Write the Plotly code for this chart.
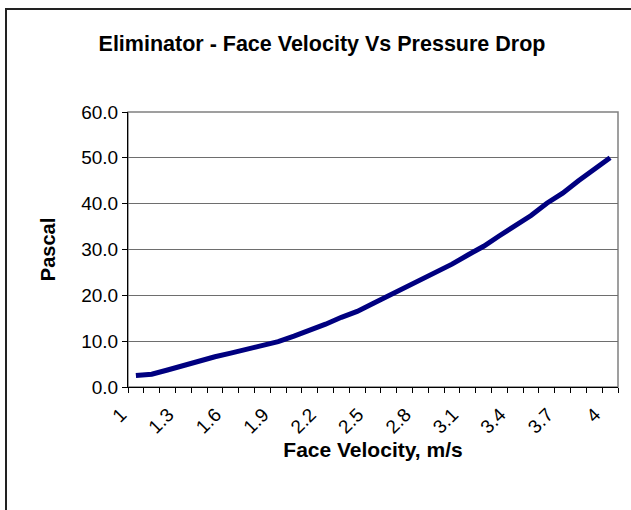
import plotly.graph_objects as go

# Face velocity (m/s) and measured pressure drop (Pa)
velocity = [1.0, 1.1, 1.2, 1.3, 1.4, 1.5, 1.6, 1.7, 1.8, 1.9, 2.0,
            2.1, 2.2, 2.3, 2.4, 2.5, 2.6, 2.7, 2.8, 2.9, 3.0,
            3.1, 3.2, 3.3, 3.4, 3.5, 3.6, 3.7, 3.8, 3.9, 4.0]
pressure_drop = [2.5, 2.8, 3.7, 4.7, 5.6, 6.6, 7.4, 8.2, 9.2, 9.9, 11.1,
                 12.3, 13.7, 15.2, 16.5, 18.2, 19.9, 21.4, 23.1, 25.0, 26.8,
                 28.8, 30.7, 33.0, 35.3, 37.4, 40.1, 42.3, 45.0, 47.6, 50.0]
x_tick_values = [1.0, 1.3, 1.6, 1.9, 2.2, 2.5, 2.8, 3.1, 3.4, 3.7, 4.0]
x_tick_labels = ["1", "1.3", "1.6", "1.9", "2.2", "2.5", "2.8", "3.1", "3.4", "3.7", "4"]
y_tick_values = [0, 10, 20, 30, 40, 50, 60]

W, H = 631, 510
PL, PR, PT, PB = 128, 618, 112, 387  # plot area edges in pixels
FONT = "Liberation Sans, Arial, sans-serif"


def px_x(px):
    return (px - PL) / (PR - PL)


def px_y(py):
    return (PB - py) / (PB - PT)


fig = go.Figure()
fig.add_trace(go.Scatter(
    x=velocity, y=pressure_drop, mode="lines",
    line=dict(color="#000080", width=5),
    hoverinfo="x+y", showlegend=False,
))

fig.update_layout(
    width=W, height=H,
    margin=dict(l=PL, r=W - PR, t=PT, b=H - PB, autoexpand=False),
    paper_bgcolor="white", plot_bgcolor="white",
    font=dict(family=FONT, color="black", size=19),
    title=dict(
        text="<b>Eliminator - Face Velocity Vs Pressure Drop</b>",
        font=dict(family=FONT, size=21.5, color="black"),
        xref="container", x=322 / W, xanchor="center",
        yref="container", y=1 - 43 / H, yanchor="middle",
    ),
    xaxis=dict(
        range=[0.95, 4.05], tickmode="array",
        tickvals=x_tick_values, ticktext=x_tick_labels,
        tickangle=-45, ticks="", ticklabelshift=-15, ticklabelstandoff=8,
        minor=dict(tickmode="linear", tick0=0.95, dtick=0.1,
                   ticks="outside", ticklen=5, tickcolor="black", tickwidth=1),
        showline=True, linecolor="black", linewidth=1,
        showgrid=False, zeroline=False,
        tickfont=dict(size=19),
        title=dict(text="<b>Face Velocity, m/s</b>", font=dict(size=21), standoff=4),
    ),
    yaxis=dict(
        range=[0, 60], tickmode="array", tickvals=y_tick_values,
        tickformat=".1f", ticks="outside", ticklen=5, tickcolor="black",
        showline=True, linecolor="black", linewidth=1,
        showgrid=True, gridcolor="#6e6e6e", gridwidth=1, zeroline=False,
        tickfont=dict(size=19),
        title=dict(text="<b>Pascal</b>", font=dict(size=20), standoff=20),
    ),
    shapes=[
        # plot area frame
        dict(type="rect", xref="paper", yref="paper", x0=0, x1=1, y0=0, y1=1,
             line=dict(color="#808080", width=1.5), layer="below"),
        # chart area border
        dict(type="rect", xref="paper", yref="paper",
             x0=px_x(6), x1=px_x(W + 10), y0=px_y(H + 10), y1=px_y(9),
             line=dict(color="#222222", width=2)),
    ],
)

fig.write_html("out.html")
